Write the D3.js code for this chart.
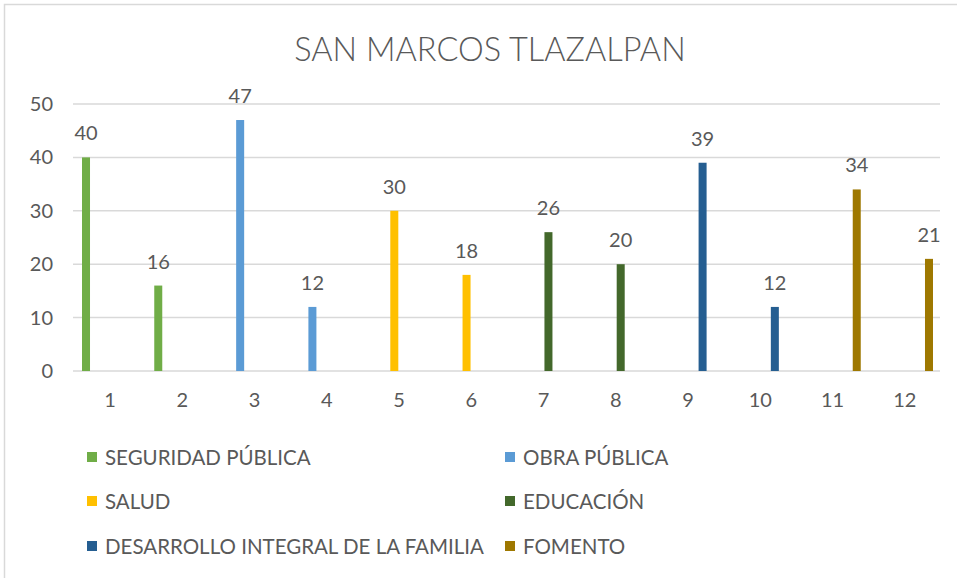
<!DOCTYPE html>
<html>
<head>
<meta charset="utf-8">
<script src="https://cdn.jsdelivr.net/npm/d3@7"></script>
<style>
  html, body { margin: 0; padding: 0; background: #fff; }
  svg { display: block; font-family: Lato, "Open Sans", sans-serif; }
</style>
</head>
<body>
<svg id="chart" width="957" height="578"></svg>
<script>
// chart data
const title = 'SAN MARCOS TLAZALPAN';
const categories = ['1', '2', '3', '4', '5', '6', '7', '8', '9', '10', '11', '12'];
const seriesNames = [
  'SEGURIDAD PÚBLICA', 'OBRA PÚBLICA', 'SALUD',
  'EDUCACIÓN', 'DESARROLLO INTEGRAL DE LA FAMILIA', 'FOMENTO'
];
const seguridad  = [40, 16, null, null, null, null, null, null, null, null, null, null];
const obra       = [null, null, 47, 12, null, null, null, null, null, null, null, null];
const salud      = [null, null, null, null, 30, 18, null, null, null, null, null, null];
const educacion  = [null, null, null, null, null, null, 26, 20, null, null, null, null];
const desarrollo = [null, null, null, null, null, null, null, null, 39, 12, null, null];
const fomento    = [null, null, null, null, null, null, null, null, null, null, 34, 21];
const yTicks = [0, 10, 20, 30, 40, 50];

const colors = ['#70ad47', '#5b9bd5', '#ffc000', '#43682b', '#255e91', '#9e7800'];
const seriesValues = [seguridad, obra, salud, educacion, desarrollo, fomento];

const svg = d3.select('#chart');
const plot = { left: 74, right: 941, top: 104, bottom: 371 };

// outer chart frame (cropped on the right and bottom in the reference)
svg.append('path')
  .attr('d', 'M4.5,600 V4.5 H960')
  .attr('fill', 'none')
  .attr('stroke', '#d9d9d9')
  .attr('stroke-width', 1.5);

svg.append('text')
  .attr('x', 490).attr('y', 61)
  .attr('text-anchor', 'middle')
  .attr('fill', '#595959')
  .attr('font-size', '32.5px')
  .attr('font-weight', 300)
  .text(title);

const x = d3.scaleBand().domain(categories).range([plot.left, plot.right]);
const xSeries = d3.scaleBand().domain(d3.range(seriesNames.length))
  .range([0, x.bandwidth()])
  .paddingInner(0.17)
  .paddingOuter(0.83);
const y = d3.scaleLinear().domain([0, 50]).range([plot.bottom, plot.top]);

// gridlines
svg.append('g')
  .selectAll('line').data(yTicks).join('line')
  .attr('x1', plot.left - 1).attr('x2', plot.right - 1)
  .attr('y1', d => y(d)).attr('y2', d => y(d))
  .attr('stroke', '#d9d9d9')
  .attr('stroke-width', 1.5);

// y axis labels
svg.append('g')
  .selectAll('text').data(yTicks).join('text')
  .attr('x', 53)
  .attr('y', d => y(d) + 7)
  .attr('text-anchor', 'end')
  .attr('fill', '#595959')
  .attr('font-size', '20px')
  .text(d => d);

// x axis labels
svg.append('g')
  .selectAll('text').data(categories).join('text')
  .attr('x', d => x(d) + x.bandwidth() / 2)
  .attr('y', 407)
  .attr('text-anchor', 'middle')
  .attr('fill', '#595959')
  .attr('font-size', '20px')
  .text(d => d);

// bars + data labels
const points = [];
seriesValues.forEach((vals, si) => {
  vals.forEach((v, ci) => {
    if (v == null) return;
    points.push({ series: si, cat: categories[ci], value: v });
  });
});

svg.append('g')
  .selectAll('rect').data(points).join('rect')
  .attr('x', d => x(d.cat) + xSeries(d.series))
  .attr('y', d => y(d.value))
  .attr('width', xSeries.bandwidth())
  .attr('height', d => y(0) - y(d.value))
  .attr('fill', d => colors[d.series]);

svg.append('g')
  .selectAll('text').data(points).join('text')
  .attr('x', d => x(d.cat) + xSeries(d.series) + xSeries.bandwidth() / 2)
  .attr('y', d => y(d.value) - 17)
  .attr('text-anchor', 'middle')
  .attr('fill', '#595959')
  .attr('font-size', '20px')
  .text(d => d.value);

// legend: two columns, three rows
const legendCols = [87, 505];
const legendRows = [457, 501, 546];
const legend = svg.append('g')
  .selectAll('g').data(seriesNames).join('g')
  .attr('transform', (d, i) => `translate(${legendCols[i % 2]},${legendRows[Math.floor(i / 2)]})`);

legend.append('rect')
  .attr('x', 0).attr('y', -5)
  .attr('width', 10).attr('height', 10)
  .attr('fill', (d, i) => colors[i]);

legend.append('text')
  .attr('x', 18).attr('y', 7.5)
  .attr('fill', '#595959')
  .attr('font-size', '20.5px')
  .text(d => d);
</script>
</body>
</html>
